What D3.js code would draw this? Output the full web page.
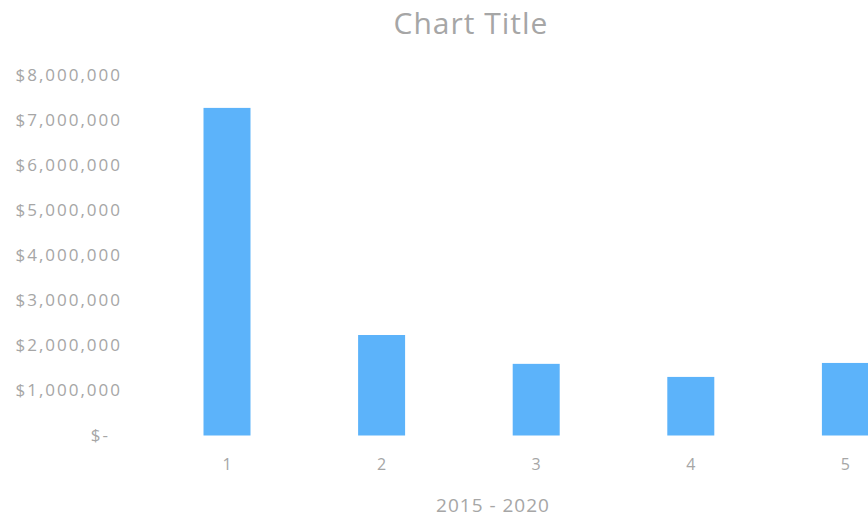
<!DOCTYPE html>
<html>
<head>
<meta charset="utf-8">
<script src="https://d3js.org/d3.v7.min.js"></script>
<style>
  body { margin: 0; background: #fff; }
  text { font-family: "Open Sans", sans-serif; fill: #a6a6a6; }
</style>
</head>
<body>
<svg width="868" height="520"></svg>
<script>
// chart data
const periods = ["1", "2", "3", "4", "5"];
const amounts = [7270000, 2230000, 1590000, 1300000, 1610000];
const yTicks = [0, 1000000, 2000000, 3000000, 4000000, 5000000, 6000000, 7000000, 8000000];

const svg = d3.select("svg");

const x = d3.scaleBand()
  .domain(periods)
  .range([149.7, 922.7])
  .paddingInner(0.696)
  .paddingOuter(0.348);

const y = d3.scaleLinear()
  .domain([0, 8000000])
  .range([435.5, 75]);

// bars
svg.append("g")
  .selectAll("rect")
  .data(periods)
  .enter().append("rect")
  .attr("x", d => x(d))
  .attr("width", x.bandwidth())
  .attr("y", (d, i) => y(amounts[i]))
  .attr("height", (d, i) => y(0) - y(amounts[i]))
  .attr("fill", "#5cb3fa");

// y axis labels
const fmt = d3.format(",");
const yAxis = svg.append("g")
  .attr("transform", "translate(122,0)")
  .call(d3.axisLeft(y).tickValues(yTicks).tickSize(0).tickPadding(0)
    .tickFormat(d => d === 0 ? "$-" : "$" + fmt(d)));
yAxis.select(".domain").remove();
yAxis.selectAll("text")
  .style("font-size", "17px")
  .style("letter-spacing", "2px")
  .attr("fill", "#b0b0b0")
  .attr("dx", d => d === 0 ? -12 : 0);

// x axis labels
const xAxis = svg.append("g")
  .attr("transform", "translate(0,459)")
  .call(d3.axisBottom(x).tickSize(0).tickPadding(0));
xAxis.select(".domain").remove();
xAxis.selectAll("text")
  .style("font-size", "16px")
  .attr("fill", "#b0b0b0");

// title
svg.append("text")
  .attr("x", 471)
  .attr("y", 34)
  .attr("text-anchor", "middle")
  .style("font-size", "30px")
  .style("letter-spacing", "1px")
  .attr("fill", "#a9a9a9")
  .text("Chart Title");

// x axis title
svg.append("text")
  .attr("x", 493)
  .attr("y", 512)
  .attr("text-anchor", "middle")
  .style("font-size", "19px")
  .style("letter-spacing", "1px")
  .attr("fill", "#b0b0b0")
  .text("2015 - 2020");
</script>
</body>
</html>
